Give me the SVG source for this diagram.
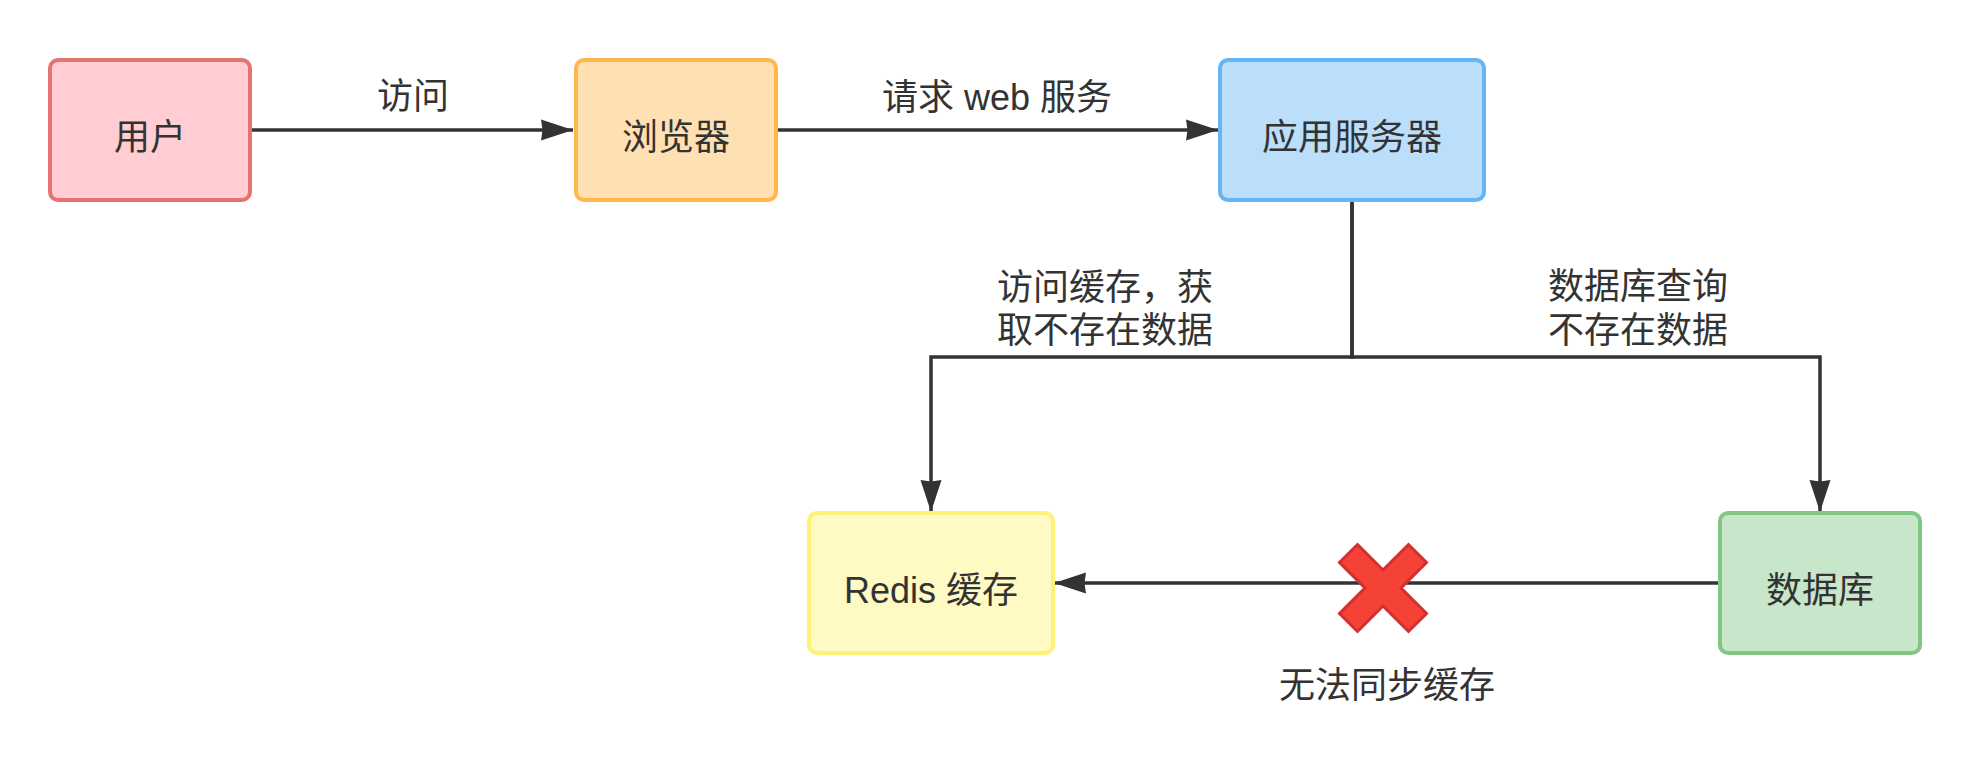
<svg xmlns="http://www.w3.org/2000/svg" width="1970" height="768" viewBox="0 0 1970 768">
  <style>
    .box { stroke-width: 4; }
    .lbl { font-family: "Liberation Sans", "Noto Sans CJK SC", sans-serif; font-size: 36px; fill: #333333; text-anchor: middle; }
    .edge { fill: none; stroke: #333333; stroke-width: 3.5; }
  </style>
  <defs>
    <marker id="arrow" markerUnits="userSpaceOnUse" viewBox="0 0 32 22" markerWidth="32" markerHeight="22" refX="32" refY="11" orient="auto">
      <path d="M0,0.5 L32,11 L0,21.5 L1.5,11 Z" fill="#333333"/>
    </marker>
  </defs>
  <rect width="1970" height="768" fill="#ffffff"/>

  <g id="connectors">
    <path class="edge" d="M250,130 L573,130" marker-end="url(#arrow)"/>
    <path class="edge" d="M776,130 L1218,130" marker-end="url(#arrow)"/>
    <path class="edge" d="M1352,200 L1352,357 L931,357 L931,512" marker-end="url(#arrow)"/>
    <path class="edge" d="M1352,200 L1352,357 L1820,357 L1820,512" marker-end="url(#arrow)"/>
    <path class="edge" d="M1720,583 L1054,583" marker-end="url(#arrow)"/>
    <text class="lbl" x="413" y="109">访问</text>
    <text class="lbl" x="997" y="110">请求 web 服务</text>
    <text class="lbl" x="1105" y="300">访问缓存，获</text>
    <text class="lbl" x="1105" y="343">取不存在数据</text>
    <text class="lbl" x="1638" y="299">数据库查询</text>
    <text class="lbl" x="1638" y="343">不存在数据</text>
  </g>

  <g id="node-user">
    <rect class="box" x="50" y="60" width="200" height="140" rx="8" fill="#FFCDD2" stroke="#E57373"/>
    <text class="lbl" x="150" y="150">用户</text>
  </g>
  <g id="node-browser">
    <rect class="box" x="576" y="60" width="200" height="140" rx="8" fill="#FFE0B2" stroke="#FFB74D"/>
    <text class="lbl" x="676" y="150">浏览器</text>
  </g>
  <g id="node-app">
    <rect class="box" x="1220" y="60" width="264" height="140" rx="8" fill="#BBDEFB" stroke="#64B5F6"/>
    <text class="lbl" x="1352" y="150">应用服务器</text>
  </g>
  <g id="node-redis">
    <rect class="box" x="809" y="513" width="244" height="140" rx="8" fill="#FFF9C4" stroke="#FFF176"/>
    <text class="lbl" x="931" y="603">Redis 缓存</text>
  </g>
  <g id="node-db">
    <rect class="box" x="1720" y="513" width="200" height="140" rx="8" fill="#C8E6C9" stroke="#81C784"/>
    <text class="lbl" x="1820" y="603">数据库</text>
  </g>
  <g id="node-x">
    <polygon transform="translate(1383,588)" points="-25.5,-43.5 0,-18 25.5,-43.5 43.5,-25.5 18,0 43.5,25.5 25.5,43.5 0,18 -25.5,43.5 -43.5,25.5 -18,0 -43.5,-25.5" fill="#F44336" stroke="#D32F2F" stroke-width="3" stroke-linejoin="miter"/>
    <text class="lbl" x="1387" y="698">无法同步缓存</text>
  </g>
</svg>
